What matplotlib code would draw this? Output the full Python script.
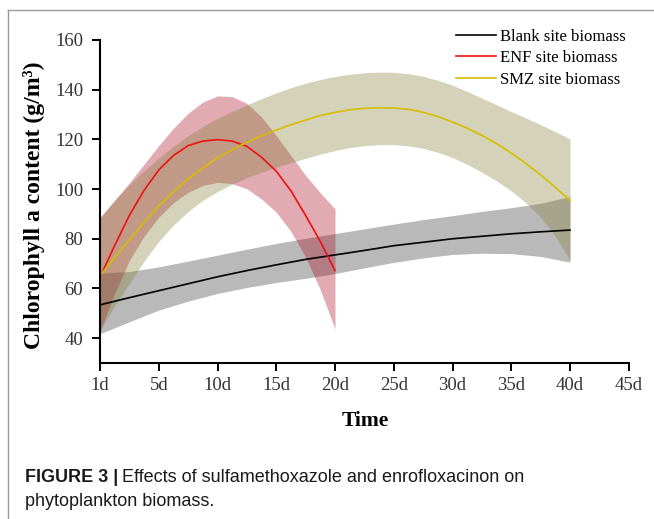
import numpy as np
import matplotlib
matplotlib.use("Agg")
import matplotlib.pyplot as plt
from matplotlib.lines import Line2D

# ---------------- data ----------------
tick_labels = ["1d", "5d", "10d", "15d", "20d", "25d", "30d", "35d", "40d", "45d"]

# positions on the (equally spaced) time axis, in tick units (0 = 1d, 1 = 5d, ... 8 = 40d)
time_blank = [0, 0.5, 1, 1.5, 2, 2.5, 3, 3.5, 4, 4.5, 5, 5.5, 6, 6.5, 7, 7.5, 8]
time_enf = [0, 0.25, 0.5, 0.75, 1, 1.25, 1.5, 1.75, 2, 2.25, 2.5, 2.75, 3, 3.25, 3.5, 3.75, 4]
time_smz = [0, 0.25, 0.5, 0.75, 1, 1.25, 1.5, 1.75, 2, 2.25, 2.5, 2.75, 3, 3.25, 3.5, 3.75,
            4, 4.25, 4.5, 4.75, 5, 5.25, 5.5, 5.75, 6, 6.25, 6.5, 6.75, 7, 7.25, 7.5, 7.75, 8]

blank_mean = [53.4, 56.3, 59.1, 61.9, 64.7, 67.2, 69.5, 71.7, 73.5, 75.3, 77.2, 78.6, 80.0, 81.0, 82.0, 82.8, 83.5]
blank_upper = [66.2, 66.8, 68.7, 71.0, 73.4, 75.8, 78.1, 80.2, 82.1, 84.0, 85.9, 87.7, 89.3, 91.0, 92.5, 94.3, 97.0]
blank_lower = [41.8, 46.6, 51.3, 54.9, 58.0, 60.4, 62.4, 64.1, 66.0, 68.3, 70.5, 72.3, 73.7, 74.2, 74.0, 72.9, 70.6]

enf_mean = [64.5, 77.3, 89.4, 99.5, 107.7, 113.5, 117.5, 119.3, 119.9, 119.3, 117.2, 112.8, 107.2, 99.3, 89.4, 78.9, 67.2]
enf_upper = [88.5, 95.5, 102.5, 110.0, 117.5, 124.5, 130.5, 135.0, 137.5, 137.2, 134.5, 129.0, 121.5, 113.5, 105.5, 98.5, 92.0]
enf_lower = [43.0, 58.0, 71.3, 81.0, 88.7, 94.5, 98.7, 101.5, 102.7, 102.2, 100.1, 96.0, 90.7, 83.0, 72.6, 59.5, 43.8]

smz_mean = [65.2, 72.4, 79.6, 86.6, 93.2, 98.9, 104.1, 108.5, 112.6, 115.9, 118.8, 121.5, 123.8, 125.9, 127.8, 129.6,
            130.9, 131.9, 132.5, 132.7, 132.6, 132.1, 130.9, 129.2, 127.0, 124.5, 121.6, 118.3, 114.5, 110.3, 105.7, 100.7, 95.4]
smz_upper = [88.5, 95.4, 101.8, 107.4, 112.5, 117.2, 121.5, 125.2, 128.5, 131.3, 133.9, 136.4, 138.7, 140.8, 142.6, 144.1,
             145.3, 146.2, 146.8, 147.1, 147.0, 146.4, 145.4, 143.8, 141.8, 139.3, 136.6, 133.9, 131.2, 128.6, 125.9, 123.1, 120.2]
smz_lower = [43.0, 53.0, 62.0, 71.0, 79.0, 85.5, 91.0, 95.5, 99.0, 102.0, 104.6, 106.8, 108.8, 110.6, 112.4, 114.1,
             115.5, 116.7, 117.5, 117.9, 117.9, 117.4, 116.4, 114.8, 112.7, 110.0, 106.8, 103.3, 99.3, 94.5, 88.7, 81.0, 71.3]

series_labels = ["Blank site biomass", "ENF site biomass", "SMZ site biomass"]

# ---------------- figure ----------------
W, H = 654, 519
fig = plt.figure(figsize=(W / 100, H / 100), dpi=100)
ax = fig.add_axes([100 / W, 1 - 363 / H, 528.75 / W, 323 / H])

serif = "Liberation Serif"

# bands (gray, pink, khaki on top)
ax.fill_between(time_blank, blank_lower, blank_upper, color=(55/255, 55/255, 55/255), alpha=0.35, lw=0)
ax.fill_between(time_enf, enf_lower, enf_upper, color=(172/255, 12/255, 35/255), alpha=0.35, lw=0)
ax.fill_between(time_smz, smz_lower, smz_upper, color=(132/255, 126/255, 55/255), alpha=0.35, lw=0)

l1, = ax.plot(time_blank, blank_mean, color="black", lw=1.2)
l2, = ax.plot(time_enf, enf_mean, color="#ee1111", lw=1.2)
l3, = ax.plot(time_smz, smz_mean, color="#d8bc00", lw=1.2)

ax.set_xlim(0, 9)
ax.set_ylim(30, 160)
ax.set_xticks(range(len(tick_labels)))
ax.set_xticklabels(tick_labels)
ax.set_yticks([40, 60, 80, 100, 120, 140, 160])

for s in ["top", "right"]:
    ax.spines[s].set_visible(False)
for s in ["left", "bottom"]:
    ax.spines[s].set_linewidth(1.5)
ax.tick_params(axis="both", direction="out", length=6, width=1.4, labelsize=13.5, colors="black")
ax.tick_params(axis="y", pad=6)
ax.tick_params(axis="x", pad=4)
for lab in ax.get_xticklabels() + ax.get_yticklabels():
    lab.set_fontfamily(serif)
    lab.set_color("#333333")

ax.set_xlabel("Time", fontfamily=serif, fontsize=15.5, fontweight="bold")
ax.xaxis.set_label_coords(0.501, -0.1796)
ax.xaxis.label.set_va("center")
ax.set_ylabel("Chlorophyll a content (g/m³)", fontfamily=serif, fontsize=17, fontweight="bold")
ax.yaxis.set_label_coords(-0.1248, 0.4876)
ax.yaxis.label.set_va("center")

leg = ax.legend([l1, l2, l3], series_labels, loc="upper left",
                bbox_to_anchor=(456 / W, 1 - 29 / H), bbox_transform=fig.transFigure,
                frameon=False, handlelength=2.4, handletextpad=0.25, borderpad=0,
                borderaxespad=0, labelspacing=0.32, prop={"family": serif, "size": 12})

# frame lines of the figure panel
fig.add_artist(Line2D([8 / W, 1], [1 - 10 / H, 1 - 10 / H], transform=fig.transFigure,
                      color="#9a9a9a", lw=1))
fig.add_artist(Line2D([8 / W, 8 / W], [1 - 10 / H, 0], transform=fig.transFigure,
                      color="#9a9a9a", lw=1))

# caption
sans = "Liberation Sans"
cap_size = 13
t1 = fig.text(25 / W, 1 - 477 / H, "FIGURE 3 |", fontfamily=sans, fontsize=cap_size,
              fontweight="bold", va="center", ha="left", color="#1a1a1a")
fig.canvas.draw()
r = fig.canvas.get_renderer()
bb = t1.get_window_extent(r)
fig.text((bb.x1 + 4) / W, 1 - 477 / H, "Effects of sulfamethoxazole and enrofloxacinon on",
         fontfamily=sans, fontsize=cap_size, va="center", ha="left", color="#1a1a1a")
fig.text(25 / W, 1 - 501 / H, "phytoplankton biomass.", fontfamily=sans, fontsize=cap_size,
         va="center", ha="left", color="#1a1a1a")

fig.savefig("out.png", dpi=100)
